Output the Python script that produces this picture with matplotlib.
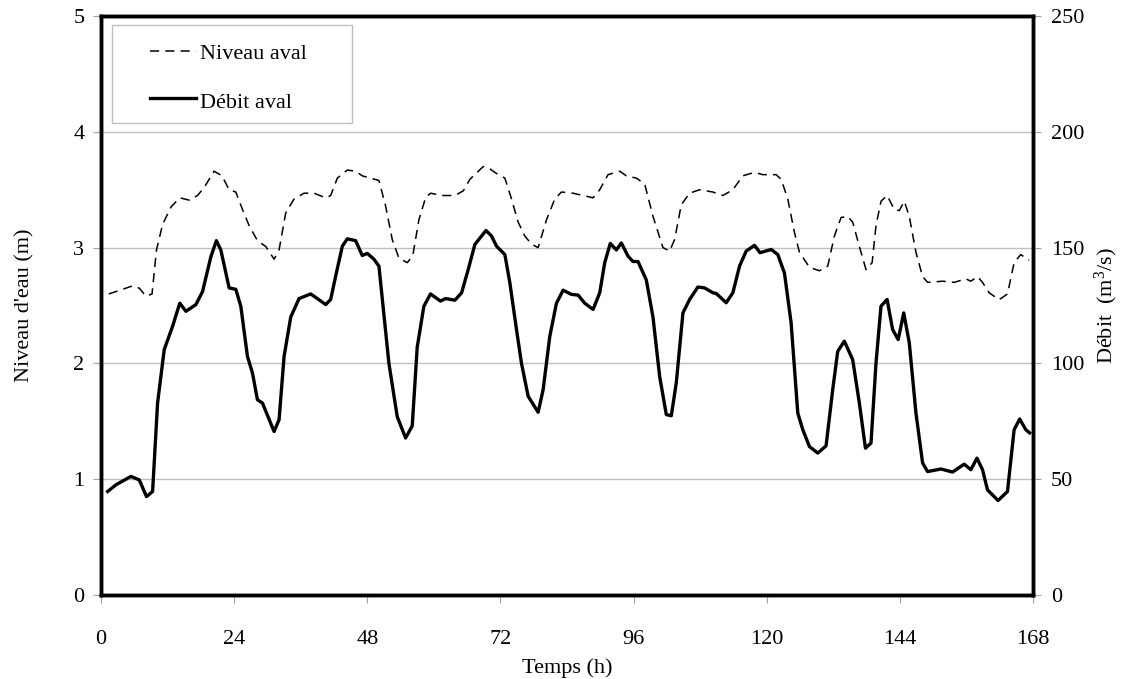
import matplotlib
matplotlib.use("Agg")
import matplotlib.pyplot as plt
from matplotlib.lines import Line2D
from matplotlib.patches import Rectangle

# Débit aval (m3/s) - right axis
t_debit = [1.2, 2.7, 5.4, 6.9, 8.2, 9.3, 10.2, 11.4, 12.9, 14.2, 15.3, 17.1, 18.3, 19.8, 20.8,
           21.6, 23.1, 24.3, 25.2, 26.4, 27.3, 28.2, 29.1, 31.2, 32.1, 33.0, 34.2, 35.7, 37.8,
           39.0, 40.5, 41.4, 42.3, 43.5, 44.4, 45.9, 47.1, 48.0, 49.2, 50.1, 51.9, 53.4, 54.9,
           56.1, 57.0, 58.2, 59.4, 61.2, 62.1, 63.8, 65.0, 66.2, 67.4, 69.4, 70.4, 71.3, 72.8,
           73.7, 74.9, 75.8, 77.0, 78.8, 79.7, 80.9, 82.1, 83.3, 84.8, 86.0, 87.2, 88.7, 89.9,
           90.8, 91.8, 92.9, 93.8, 95.0, 95.9, 96.8, 98.3, 99.5, 100.7, 101.9, 102.8, 103.7,
           104.9, 106.1, 107.6, 108.8, 110.3, 110.9, 112.7, 113.9, 115.1, 116.3, 117.8, 118.8,
           120.8, 122.0, 123.2, 124.4, 125.6, 126.5, 127.7, 129.2, 130.7, 131.9, 132.8, 134.0,
           135.5, 136.7, 137.8, 138.8, 139.7, 140.6, 141.7, 142.7, 143.7, 144.7, 145.7, 146.9,
           148.1, 149.0, 151.4, 153.5, 155.6, 156.8, 157.9, 158.9, 159.8, 161.7, 163.4, 164.6,
           165.6, 166.7, 167.4]
debit = [44.7, 47.6, 51.2, 49.7, 42.5, 44.7, 83, 106, 116, 126, 122.5, 125.4, 131, 146, 153,
         149, 132.6, 132, 124.7, 103, 95.9, 84.3, 82.9, 70.6, 75.7, 103, 120, 128, 130,
         128, 125.4, 127.6, 137.7, 150.6, 153.8, 153, 146.6, 147.5, 145, 142, 100, 77, 67.8,
         73, 107, 124.7, 130, 126.9, 128, 127.3, 130.5, 140.6, 151.4, 157.4, 155, 150.6, 147,
         134.8, 114.6, 100, 85.8, 78.9, 88.7, 111.7, 126, 131.6, 129.8, 129.5, 126, 123.3, 130.5,
         143.5, 151.8, 149, 152, 146.3, 144, 144, 136, 120, 94.4, 77.9, 77.4, 91.6,
         121.8, 127.6, 133, 132.6, 130.5, 130.2, 126.2, 130.5, 142, 148.5, 151, 147.8,
         149.2, 147, 139, 117.5, 78.6, 71.4, 64.1, 61.3, 64.4, 88.7, 105.2, 109.6,
         101.6, 82.9, 63.4, 65.6, 100.2, 124.7, 127.6, 114.6, 110.3, 121.8, 108.9, 78.6,
         57, 53.3, 54.4, 53.1, 56.5, 54.1, 59.1, 54.1, 45.4, 40.8, 44.7, 71.4,
         76, 71.4, 70]

# Niveau aval (m) - left axis
t_niveau = [1.4, 3.9, 5.7, 6.9, 8.1, 9.2, 10.0, 11.1, 12.6, 14.2, 15.9, 17.4, 18.6, 20.4, 21.8,
            23.1, 24.3, 25.5, 26.7, 28.2, 29.7, 31.2, 32.1, 33.3, 34.8, 36.6, 38.4, 40.5, 41.4,
            42.6, 44.4, 45.9, 47.1, 48.6, 50.1, 51.3, 52.5, 53.7, 55.2, 56.2, 57.3, 58.5, 59.4,
            61.4, 63.8, 65.3, 66.5, 68.9, 70.1, 71.3, 72.8, 74.0, 75.2, 76.4, 77.6, 78.8, 80.3,
            81.8, 83.0, 85.1, 86.9, 88.7, 89.9, 91.4, 93.5, 94.7, 96.5, 98.0, 99.5, 101.3, 102.5,
            103.4, 104.6, 106.1, 107.9, 110.3, 112.1, 113.9, 115.7, 117.8, 119.3, 121.7, 122.6,
            123.8, 125.0, 125.9, 127.7, 129.5, 131.0, 132.2, 133.4, 134.6, 135.5, 136.7, 137.9,
            139.0, 139.7, 140.6, 141.7, 143.0, 143.9, 144.8, 145.7, 146.9, 148.1, 149.0, 151.7,
            153.8, 155.9, 156.8, 158.0, 158.9, 160.1, 161.9, 163.4, 164.6, 165.8, 167.3]
niveau = [2.60, 2.64, 2.67, 2.65, 2.58, 2.60, 2.98, 3.20, 3.35, 3.43, 3.41, 3.45, 3.52, 3.66, 3.62,
          3.50, 3.48, 3.33, 3.19, 3.06, 3.01, 2.90, 2.98, 3.30, 3.42, 3.47, 3.47, 3.43, 3.45,
          3.60, 3.67, 3.66, 3.62, 3.60, 3.58, 3.36, 3.07, 2.91, 2.87, 2.93, 3.24, 3.43, 3.47,
          3.45, 3.45, 3.49, 3.59, 3.70, 3.68, 3.64, 3.60, 3.42, 3.22, 3.10, 3.03, 3.00, 3.24,
          3.42, 3.48, 3.47, 3.45, 3.43, 3.50, 3.63, 3.66, 3.62, 3.60, 3.55, 3.27, 3.00, 2.97,
          3.07, 3.37, 3.47, 3.50, 3.48, 3.45, 3.50, 3.62, 3.65, 3.63, 3.63, 3.59,
          3.42, 3.13, 2.96, 2.83, 2.80, 2.84, 3.10, 3.26, 3.27, 3.22, 3.01, 2.81,
          2.87, 3.19, 3.40, 3.45, 3.33, 3.32, 3.40, 3.27, 2.96, 2.75, 2.70, 2.71,
          2.70, 2.73, 2.71, 2.75, 2.70, 2.61, 2.55, 2.60, 2.87, 2.94, 2.89]

x_ticks = [0, 24, 48, 72, 96, 120, 144, 168]
left_ticks = [0, 1, 2, 3, 4, 5]
right_ticks = [0, 50, 100, 150, 200, 250]
legend_labels = ["Niveau aval", "Débit aval"]

serif = ["Liberation Serif", "DejaVu Serif"]
plt.rcParams["font.family"] = serif
plt.rcParams["mathtext.fontset"] = "custom"
plt.rcParams["mathtext.rm"] = "Liberation Serif"
plt.rcParams["mathtext.it"] = "Liberation Serif:italic"
FS = 16
plt.rcParams["font.size"] = FS

DASH = (6, 4)

fig = plt.figure(figsize=(11.26, 6.79), dpi=100)
ax = fig.add_axes([0.0897, 0.1237, 0.8277, 0.8527])
ax2 = ax.twinx()

for y in [1, 2, 3, 4]:
    ax.axhline(y, color="#c0c0c0", lw=1.0, zorder=0)

ax.plot(t_niveau, niveau, color="black", lw=1.1, dashes=DASH, zorder=3)
ax2.plot(t_debit, debit, color="black", lw=2.4, zorder=3, solid_joinstyle="round")

ax.set_xlim(0, 168)
ax.set_ylim(0, 5)
ax2.set_ylim(0, 250)
ax.set_xticks(x_ticks)
ax.set_yticks(left_ticks)
ax2.set_yticks(right_ticks)

for a in (ax, ax2):
    for s in a.spines.values():
        s.set_linewidth(2.5)
        s.set_color("black")
    a.tick_params(axis="both", direction="out", length=6, width=0.8, color="#a0a0a0",
                  labelsize=FS, pad=6)
ax.tick_params(axis="x", pad=19)
ax2.tick_params(axis="y", pad=7)

ax.set_xlabel("Temps (h)", fontsize=FS, labelpad=7)
ax.set_ylabel("Niveau d'eau (m)", fontsize=FS, labelpad=28)
ax2.set_ylabel(r"Débit  (m$^{3}$/s)", fontsize=FS, labelpad=6)

# Legend drawn in axes-fraction coordinates
tr = ax2.transAxes
ax2.add_patch(Rectangle((0.0118, 0.8152), 0.2575, 0.1693, transform=tr, facecolor="white",
                        edgecolor="#c0c0c0", lw=1.0, zorder=5))
ax2.add_line(Line2D([0.0526, 0.1019], [0.9396, 0.9396], transform=tr, color="black",
                    lw=1.1, dashes=DASH, zorder=6))
ax2.add_line(Line2D([0.0526, 0.1019], [0.8584, 0.8584], transform=tr, color="black",
                    lw=2.4, zorder=6))
ax2.text(0.1062, 0.9257, legend_labels[0], transform=tr, fontsize=FS, va="baseline",
         ha="left", zorder=7)
ax2.text(0.1062, 0.8411, legend_labels[1], transform=tr, fontsize=FS, va="baseline",
         ha="left", zorder=7)

fig.savefig("out.png", dpi=100)
